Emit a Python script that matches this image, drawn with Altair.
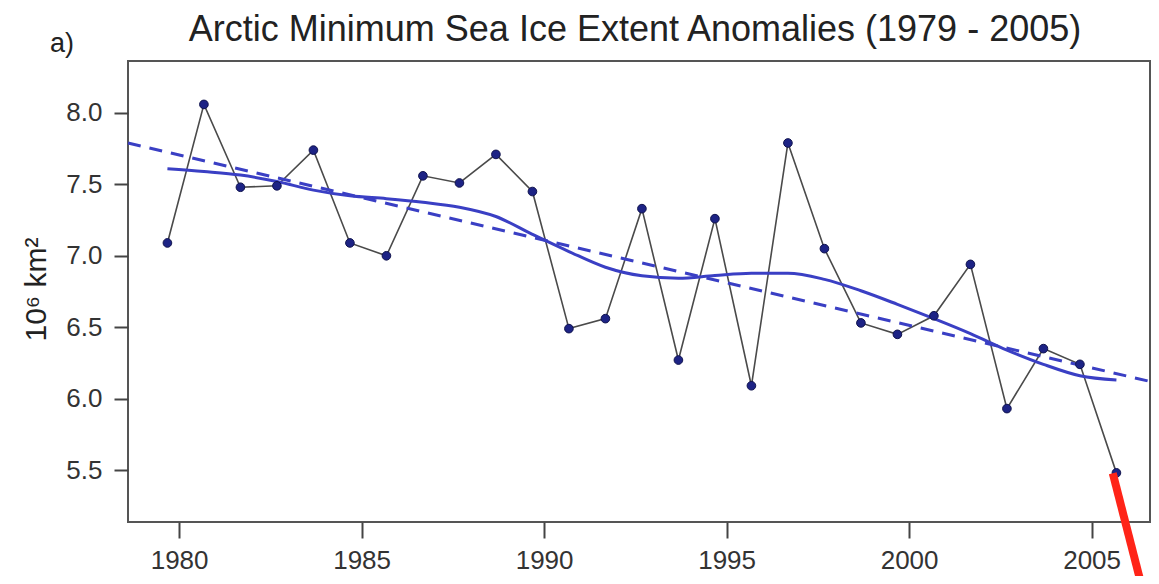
import altair as alt
import pandas as pd

# ---- data ----
years = list(range(1979, 2006))
extent = [7.09, 8.06, 7.48, 7.49, 7.74, 7.09, 7.00, 7.56, 7.51, 7.71,
          7.45, 6.49, 6.56, 7.33, 6.27, 7.26, 6.09, 7.79, 7.05, 6.53,
          6.45, 6.58, 6.94, 5.93, 6.35, 6.24, 5.48]
smooth = [7.61, 7.59, 7.565, 7.52, 7.46, 7.42, 7.40, 7.375, 7.34, 7.275,
          7.15, 7.03, 6.92, 6.86, 6.843, 6.862, 6.877, 6.878, 6.835, 6.755,
          6.66, 6.56, 6.455, 6.34, 6.24, 6.16, 6.13]
season_offset = 0.68          # September minimum, fraction of year
trend_x = [1978.6, 2006.6]
trend_y = [7.79, 6.12]
arrow_x = [2005.58, 2006.44]
arrow_y = [5.477, 4.62]
x_ticks = [1980, 1985, 1990, 1995, 2000, 2005]
y_ticks = [5.5, 6.0, 6.5, 7.0, 7.5, 8.0]
title_text = "Arctic Minimum Sea Ice Extent Anomalies (1979 - 2005)"
panel_text = "a)"
y_title = "10\u2076 km\u00b2"

df = pd.DataFrame({"year": years, "extent": extent, "smooth": smooth})
df["t"] = df["year"] + season_offset
trend = pd.DataFrame({"t": trend_x, "v": trend_y})
arrow = pd.DataFrame({"t": [arrow_x[0]], "t2": [arrow_x[1]],
                      "v": [arrow_y[0]], "v2": [arrow_y[1]]})

FONT = "Liberation Sans"
xs = alt.Scale(domain=[1978.6, 2006.6], nice=False, zero=False)
ys = alt.Scale(domain=[5.136, 8.364], nice=False, zero=False)

xaxis = alt.Axis(values=x_ticks, format="d", title=None, grid=False, domain=False,
                 tickSize=16, tickWidth=2, tickColor="#444",
                 labelFontSize=26, labelFont=FONT, labelColor="#333",
                 labelPadding=9, labelFlush=False)
yaxis = alt.Axis(values=y_ticks, format=".1f", title=y_title, grid=False, domain=False,
                 tickSize=14, tickWidth=2, tickColor="#444",
                 labelFontSize=26, labelFont=FONT, labelColor="#333",
                 labelPadding=12,
                 titleFontSize=30, titleFont=FONT, titleFontWeight="normal",
                 titleColor="#222", titleX=-92, titleY=228, titleAngle=270,
                 titleAlign="center", titleBaseline="middle")

X = alt.X("t:Q", scale=xs, axis=xaxis)
Y = alt.Y("extent:Q", scale=ys, axis=yaxis)

base = alt.Chart(df)

obs_line = base.mark_line(color="#4a4a4a", strokeWidth=1.6).encode(x=X, y=Y)

smooth_line = base.mark_line(color="#3a3fc4", strokeWidth=3, interpolate="monotone").encode(
    x=alt.X("t:Q", scale=xs), y=alt.Y("smooth:Q", scale=ys))

trend_line = alt.Chart(trend).mark_line(color="#3a3fc4", strokeWidth=3,
                                        strokeDash=[13, 9]).encode(
    x=alt.X("t:Q", scale=xs), y=alt.Y("v:Q", scale=ys))

pts = base.mark_point(filled=True, size=75, color="#1d2385", opacity=1,
                      stroke="#10134d", strokeWidth=1).encode(x=X, y=Y)

red = alt.Chart(arrow).mark_rule(color="#ff2418", strokeWidth=8).encode(
    x=alt.X("t:Q", scale=xs), x2="t2:Q",
    y=alt.Y("v:Q", scale=ys), y2="v2:Q")

title = alt.Chart(pd.DataFrame({"s": [title_text]})).mark_text(
    font=FONT, fontSize=36, color="#222", align="center", baseline="alphabetic"
).encode(text="s:N", x=alt.value(507), y=alt.value(-20))

panel = alt.Chart(pd.DataFrame({"s": [panel_text]})).mark_text(
    font=FONT, fontSize=27, color="#222", align="left", baseline="alphabetic"
).encode(text="s:N", x=alt.value(-78), y=alt.value(-9))

chart = alt.layer(obs_line, trend_line, smooth_line, pts, red, title, panel).properties(
    width=1022, height=461,
    autosize=alt.AutoSizeParams(type="none"),
    padding={"left": 120, "top": 53, "right": 1, "bottom": 54},
    background="white",
).configure_view(stroke="#555", strokeWidth=2)

chart.save("out.html", embed_options={"renderer": "svg", "actions": False})
